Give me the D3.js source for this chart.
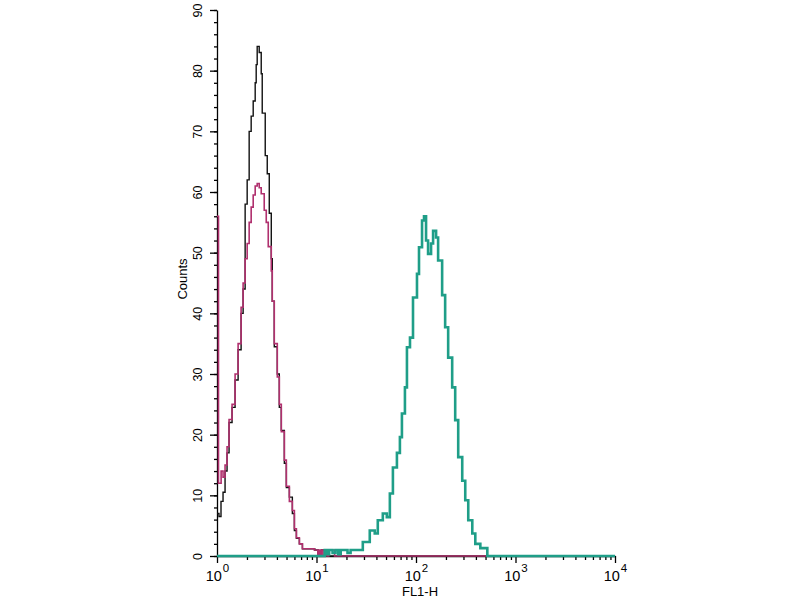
<!DOCTYPE html>
<html>
<head>
<meta charset="utf-8">
<script src="https://cdn.jsdelivr.net/npm/d3@7"></script>
<style>
  body { margin: 0; background: #fff; }
  text { font-family: "Liberation Sans", Arial, sans-serif; }
</style>
</head>
<body>
<div id="chart"></div>
<script>
// FL1-H values (bin starts) and counts
const blackFL = [1, 1.047, 1.097, 1.15, 1.205, 1.262, 1.322, 1.417, 1.52, 1.63, 1.747, 1.83, 1.918, 2.01, 2.105, 2.205, 2.311, 2.42, 2.477, 2.535, 2.656, 2.783, 2.848, 3.053, 3.199, 3.352, 3.512, 3.594, 3.765, 4.037, 4.23, 4.43, 4.752, 4.977, 5.337, 5.72, 5.995, 6.28, 6.73, 7.22, 9.6, 10.4, 11.2, 12.0, 10000];
const blackCounts = [7, 6.5, 9, 10.5, 14, 17, 22, 24.5, 29, 34, 40, 44, 58, 62, 70, 72.5, 75, 78, 81, 84, 83, 79.5, 73, 66, 63, 56.5, 49, 42, 34.5, 30, 24.5, 20.7, 15.3, 11.3, 9.7, 7, 4.2, 2.9, 2, 1.2, 1, 0.5, 1, 0, 0];

const magentaFL = [1, 1.035, 1.1, 1.15, 1.205, 1.262, 1.322, 1.417, 1.52, 1.63, 1.747, 1.83, 1.918, 2.01, 2.105, 2.205, 2.311, 2.42, 2.535, 2.656, 2.783, 2.983, 3.126, 3.274, 3.512, 3.594, 3.765, 4.037, 4.23, 4.43, 4.752, 4.977, 5.337, 5.72, 5.995, 6.28, 6.73, 7.22, 9.5, 10.3, 10.6, 11.0, 11.4, 11.9, 12.3, 12.8, 13.3, 15.2, 10000];
const magentaCounts = [56, 12, 14, 13, 15, 18, 22.5, 25, 30, 35, 41, 45, 49, 51.5, 55, 57.5, 59.5, 61, 61.4, 60.7, 59.7, 57, 55, 51, 47, 42, 35, 29.5, 25, 20.5, 15.8, 11.5, 9, 7.5, 4.5, 3, 2, 1.2, 1, 0, 1, 0, 1, 0, 1, 0, 1, 0, 0];

const tealFL = [1, 12.1, 12.8, 13.4, 14.5, 15.5, 16.5, 17.5, 20.5, 22, 29.2, 34.3, 38.5, 41.3, 46.4, 50.9, 54.6, 58.6, 64.3, 68.9, 72.2, 77.4, 81.1, 87.0, 93.3, 102.3, 107.2, 115.0, 120.4, 126.2, 132.2, 141.7, 148.5, 159.2, 166.8, 183.1, 196.3, 210.5, 231.0, 247.7, 265.6, 291.5, 312.6, 335.1, 367.9, 394.5, 443.2, 521, 10000];
const tealCounts = [0, 1, 0.3, 1, 0.5, 1, 0.3, 1, 0.5, 1, 2.3, 4.2, 3.7, 5.9, 7, 6.4, 10.3, 14.6, 17, 19.6, 23.5, 27.8, 34.4, 36, 42.6, 46.5, 50.9, 55.3, 56, 52, 49.8, 51.5, 53.6, 52.5, 48.7, 43, 37.7, 32.7, 27.8, 22.4, 16.3, 12.4, 9.2, 5.9, 3.7, 2, 1.3, 0, 0];

const decadeTicks = [1, 10, 100, 1000, 10000];
const decadeExp = ["0", "1", "2", "3", "4"];
const countTicks = [0, 10, 20, 30, 40, 50, 60, 70, 80, 90];

const width = 800, height = 600;
const svg = d3.select("#chart").append("svg")
    .attr("width", width)
    .attr("height", height);

const x = d3.scaleLog().domain([1, 10000]).range([217, 615]);
const y = d3.scaleLinear().domain([0, 90]).range([556, 10]);

// y axis: minor every 2, major every 10
const minorY = d3.range(0, 91, 2);
svg.append("g")
    .attr("transform", "translate(217,0)")
    .call(d3.axisLeft(y).tickValues(minorY).tickSize(3).tickFormat(""))
    .call(g => g.select(".domain").remove());
const yAxis = svg.append("g")
    .attr("transform", "translate(217,0)")
    .call(d3.axisLeft(y).tickValues(countTicks).tickSize(7).tickSizeOuter(0).tickFormat(""));
yAxis.selectAll(".tick").append("text")
    .attr("transform", "rotate(-90)")
    .attr("x", 0)
    .attr("y", -15)
    .attr("text-anchor", "middle")
    .attr("fill", "#000")
    .style("font-size", "12.5px")
    .text(d => d);

// x axis: log decades with minor ticks
const minorX = [];
decadeTicks.slice(0, 4).forEach(d => { for (let k = 2; k < 10; k++) minorX.push(d * k); });
svg.append("g")
    .attr("transform", "translate(0,556)")
    .call(d3.axisBottom(x).tickValues(minorX).tickSize(4).tickFormat(""))
    .call(g => g.select(".domain").remove());
const xAxis = svg.append("g")
    .attr("transform", "translate(0,556)")
    .call(d3.axisBottom(x).tickValues(decadeTicks).tickSize(7).tickSizeOuter(0).tickFormat(""));
const lbl = xAxis.selectAll(".tick").append("text")
    .attr("y", 25)
    .attr("text-anchor", "middle")
    .attr("fill", "#000")
    .style("font-family", "'Liberation Sans Narrow', 'Liberation Sans', sans-serif")
    .style("font-size", "14.5px");
lbl.append("tspan").text("10");
lbl.append("tspan")
    .attr("dy", -9)
    .attr("dx", 1)
    .style("font-size", "11.5px")
    .text((d, i) => decadeExp[i]);

svg.selectAll(".domain, .tick line").attr("stroke", "#000").attr("stroke-width", 1.3);

// histograms
const line = d3.line()
    .x(d => x(d[0]))
    .y(d => y(d[1]))
    .curve(d3.curveStepAfter);

const series = [
  { fl: blackFL, counts: blackCounts, color: "#111", w: 1.4 },
  { fl: magentaFL, counts: magentaCounts, color: "#b0306e", w: 1.6 },
  { fl: tealFL, counts: tealCounts, color: "#1f9e88", w: 2.6 }
];
series.forEach(s => {
  svg.append("path")
      .datum(d3.zip(s.fl, s.counts))
      .attr("fill", "none")
      .attr("stroke", s.color)
      .attr("stroke-width", s.w)
      .attr("d", line);
});

// axis titles
svg.append("text")
    .attr("transform", "translate(187,279) rotate(-90)")
    .attr("text-anchor", "middle")
    .style("font-size", "13px")
    .text("Counts");
svg.append("text")
    .attr("x", 420)
    .attr("y", 596)
    .attr("text-anchor", "middle")
    .style("font-size", "13px")
    .text("FL1-H");
</script>
</body>
</html>
